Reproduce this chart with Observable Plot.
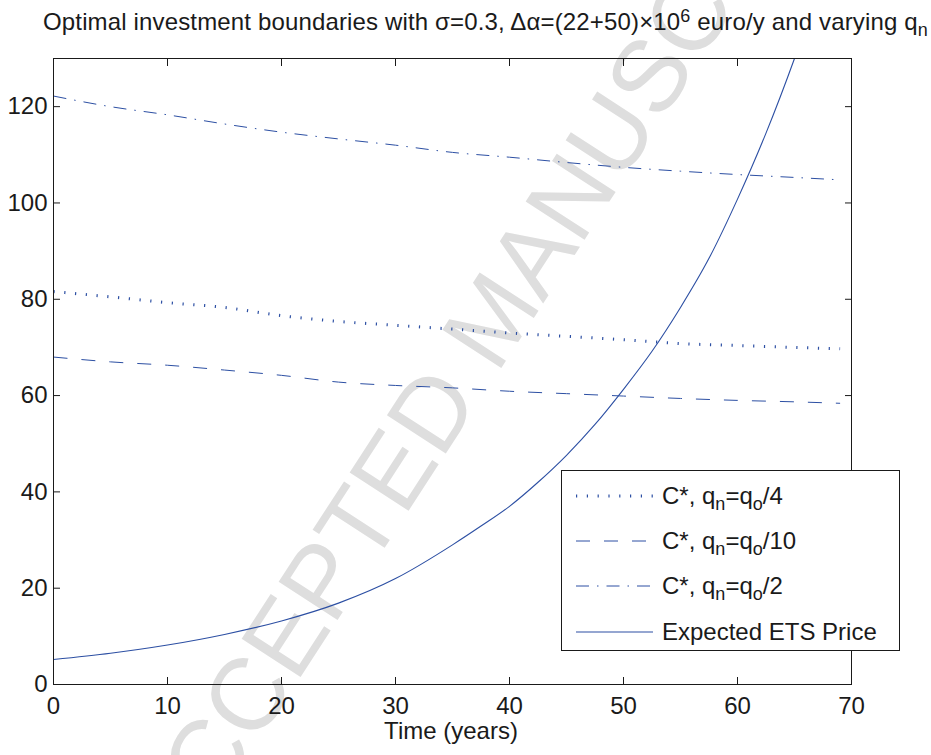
<!DOCTYPE html>
<html>
<head>
<meta charset="utf-8">
<script src="https://cdn.jsdelivr.net/npm/d3@7"></script>
<script src="https://cdn.jsdelivr.net/npm/@observablehq/plot@0.6"></script>
<style>
  body { margin: 0; background: #fff; }
  #wrap { position: relative; width: 931px; height: 755px; overflow: hidden;
          font-family: "Liberation Sans", Arial, sans-serif; color: #1a1a1a; background: #fff; }
  #watermark { position: absolute; left: 492px; top: 318px; transform: translate(-50%, -50%) rotate(-57deg);
               font-size: 102px; font-weight: normal; color: #dedede; white-space: nowrap; z-index: 0; line-height: 1; }
  #chart { position: absolute; left: 0; top: 0; z-index: 1; }
  #title { position: absolute; left: 43px; top: 10px; font-size: 24px; line-height: 24px; white-space: nowrap; z-index: 2; letter-spacing: 0.15px; }
  #xlabel { position: absolute; left: 451px; top: 719px; transform: translateX(-50%); font-size: 24px; line-height: 24px; white-space: nowrap; z-index: 2; }
  .sub { font-size: 0.75em; position: relative; top: 0.35em; }
  .sup { font-size: 0.75em; position: relative; top: -0.45em; }
  #legend { position: absolute; left: 561px; top: 470px; width: 339px; height: 181px; box-sizing: border-box;
            border: 1px solid #1a1a1a; background: #fff; z-index: 3; }
  .lrow { position: absolute; left: 0; height: 30px; width: 100%; transform: translateY(-50%); }
  .lrow svg { position: absolute; left: 13px; top: 0; }
  .lrow span.t { position: absolute; left: 100px; top: 1px; font-size: 24px; line-height: 28px; white-space: nowrap; }
</style>
</head>
<body>
<div id="wrap">
  <div id="watermark">ACCEPTED MANUSCRIPT</div>
  <div id="chart"></div>
  <div id="title">Optimal investment boundaries with σ=0.3, Δα=(22+50)×10<span class="sup">6</span> euro/y and varying q<span class="sub">n</span></div>
  <div id="xlabel">Time (years)</div>
  <div id="legend"></div>
</div>
<script>
// ---- data ----
const years = [0, 5, 10, 15, 20, 25, 30, 35, 40, 45, 50, 55, 60, 65, 69];
const cQ4  = [81.6, 80.5, 79.3, 78.3, 76.6, 75.4, 74.6, 73.8, 73.0, 72.3, 71.6, 70.8, 70.4, 70.0, 69.7];
const cQ10 = [68.0, 67.0, 66.3, 65.3, 64.2, 62.8, 62.1, 61.6, 60.9, 60.4, 59.9, 59.4, 59.0, 58.7, 58.4];
const cQ2  = [122.2, 120.0, 118.3, 116.4, 114.7, 113.3, 112.0, 110.5, 109.5, 108.4, 107.4, 106.6, 105.9, 105.3, 104.8];
const etsYears = [0, 5, 10, 15, 20, 25, 30, 35, 37.5, 40, 42.5, 45, 47.5, 50, 52.5, 55, 57.5, 60, 62.5, 65, 66];
const etsPrice = [5.2, 6.5, 8.2, 10.4, 13.2, 16.9, 22.0, 29.0, 32.9, 37.0, 42.0, 47.6, 54.0, 61.3, 69.2, 78.3, 88.5, 100.8, 114.5, 130, 136.7];
const xTicks = [0, 10, 20, 30, 40, 50, 60, 70];
const yTicks = [0, 20, 40, 60, 80, 100, 120];
const legendLabels = [
  'C*, q<span class="sub">n</span>=q<span class="sub">o</span>/4',
  'C*, q<span class="sub">n</span>=q<span class="sub">o</span>/10',
  'C*, q<span class="sub">n</span>=q<span class="sub">o</span>/2',
  'Expected ETS Price'
];

const BLUE = "#2c4fa3";
const INK = "#1a1a1a";
const styles = [
  {strokeWidth: 3, strokeDasharray: "1.2,9.6"},
  {strokeWidth: 1, strokeDasharray: "14,14"},
  {strokeWidth: 1, strokeDasharray: "13,8,1.5,8"},
  {strokeWidth: 1.1, strokeDasharray: null}
];

const toRows = (xs, ys) => xs.map((t, i) => ({t, v: ys[i]}));
const series = [toRows(years, cQ4), toRows(years, cQ10), toRows(years, cQ2)];
const ets = toRows(etsYears, etsPrice);

const blank = () => "";
const plot = Plot.plot({
  width: 931,
  height: 755,
  marginTop: 58,
  marginLeft: 53,
  marginRight: 80,
  marginBottom: 71,
  style: {background: "transparent", fontFamily: "Liberation Sans, Arial, sans-serif", color: INK},
  x: {domain: [0, 70]},
  y: {domain: [0, 130]},
  marks: [
    Plot.axisX({ticks: xTicks, tickSize: 0, tickPadding: 12, fontSize: 24, label: null, fill: INK}),
    Plot.axisY({ticks: yTicks, tickSize: 0, tickPadding: 6, fontSize: 24, label: null, fill: INK}),
    Plot.axisX({anchor: "bottom", ticks: xTicks, tickSize: 7, dy: -7, tickFormat: blank, label: null, stroke: INK}),
    Plot.axisX({anchor: "top", ticks: xTicks, tickSize: 7, dy: 7, tickFormat: blank, label: null, stroke: INK}),
    Plot.axisY({anchor: "left", ticks: yTicks, tickSize: 7, dx: 7, tickFormat: blank, label: null, stroke: INK}),
    Plot.axisY({anchor: "right", ticks: yTicks, tickSize: 7, dx: -7, tickFormat: blank, label: null, stroke: INK}),
    ...series.map((d, i) => Plot.line(d, {
      x: "t", y: "v", stroke: BLUE,
      strokeWidth: styles[i].strokeWidth, strokeDasharray: styles[i].strokeDasharray,
      strokeLinecap: "butt", curve: "monotone-x"
    })),
    Plot.line(ets, {x: "t", y: "v", stroke: BLUE, strokeWidth: styles[3].strokeWidth, curve: "monotone-x", clip: true}),
    Plot.frame({stroke: INK, strokeWidth: 1})
  ]
});
document.getElementById("chart").appendChild(plot);

// legend
const legend = d3.select("#legend");
const rowTops = [25, 70, 115, 161];
legendLabels.forEach((lab, i) => {
  const row = legend.append("div").attr("class", "lrow").style("top", rowTops[i] + "px");
  const svg = row.append("svg").attr("width", 78).attr("height", 30);
  const ln = svg.append("line").attr("x1", 1).attr("x2", 78).attr("y1", 15).attr("y2", 15)
    .attr("stroke", BLUE).attr("stroke-width", styles[i].strokeWidth).attr("stroke-linecap", "butt");
  if (styles[i].strokeDasharray) ln.attr("stroke-dasharray", styles[i].strokeDasharray);
  row.append("span").attr("class", "t").html(lab);
});
</script>
</body>
</html>
